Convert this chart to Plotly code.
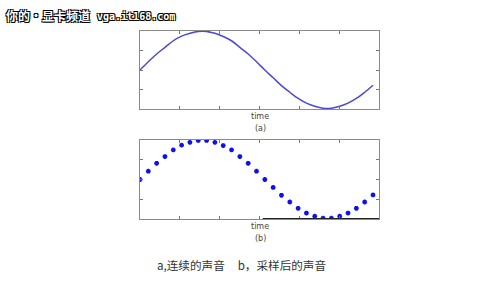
import plotly.graph_objects as go

sample_idx = list(range(29))
sample_vals = [0.0, 0.21, 0.41, 0.58, 0.75, 0.87, 0.94, 0.99, 0.99, 0.94, 0.86, 0.75,
               0.58, 0.41, 0.21, 0.0, -0.2, -0.4, -0.57, -0.73, -0.85, -0.93, -0.98,
               -0.98, -0.93, -0.85, -0.73, -0.57, -0.39]
x_ticks = [4.8, 9.6, 14.4, 19.2, 24.0]
y_ticks = [-0.5, 0, 0.5]
x_range = [0, 28.72]
y_range = [-1, 1]

fig = go.Figure()
fig.add_trace(go.Scatter(x=sample_idx, y=sample_vals, mode="lines",
                         line=dict(color="#4a4ad8", width=1.5, shape="spline"),
                         xaxis="x", yaxis="y", showlegend=False))
fig.add_trace(go.Scatter(x=sample_idx, y=sample_vals, mode="markers",
                         marker=dict(symbol="asterisk", size=4, color="#1010ee",
                                     line=dict(color="#1010ee", width=1.5)),
                         xaxis="x2", yaxis="y2", showlegend=False))

ax = dict(range=x_range, tickvals=x_ticks, ticktext=[""] * 5, ticks="inside", ticklen=3,
          tickcolor="#777", showline=True, linecolor="#8a8a8a", linewidth=1, mirror="ticks",
          showgrid=False, zeroline=False)
ay = dict(range=y_range, tickvals=y_ticks, ticktext=[""] * 3, ticks="inside", ticklen=3,
          tickcolor="#777", showline=True, linecolor="#8a8a8a", linewidth=1, mirror="ticks",
          showgrid=False, zeroline=False)

W, H = 500, 283
fig.update_layout(
    width=W, height=H, margin=dict(l=0, r=0, t=0, b=0),
    paper_bgcolor="white", plot_bgcolor="white",
    xaxis=dict(ax, domain=[140 / W, 379 / W], anchor="y"),
    yaxis=dict(ay, domain=[1 - 109 / H, 1 - 31 / H], anchor="x"),
    xaxis2=dict(ax, domain=[140 / W, 379 / W], anchor="y2"),
    yaxis2=dict(ay, domain=[1 - 219 / H, 1 - 140 / H], anchor="x2"),
    font=dict(family="DejaVu Sans", color="#444"),
)

fig.add_shape(type="line", xref="x2", yref="y2", x0=14.76, x1=28.72, y0=-1, y1=-1,
              line=dict(color="#222", width=2))

def ann(text, x, y, size, color="#444", family="DejaVu Sans", xanchor="center", **kw):
    fig.add_annotation(text=text, x=x / W, y=1 - y / H, xref="paper", yref="paper",
                       xanchor=xanchor, yanchor="middle", showarrow=False,
                       font=dict(size=size, color=color, family=family,
                                 **kw.pop("font", {})), **kw)

ann("time", 260, 116, 8)
ann("(a)", 260, 128, 8)
ann("time", 260, 226, 8)
ann("(b)", 260, 238, 8)
ann("a,连续的声音&nbsp;&nbsp;&nbsp;&nbsp;&nbsp;b，采样后的声音", 241, 265, 11.6, color="#333",
    family="Noto Sans CJK SC")
outline = "1px 1px 0 #000, -1px -1px 0 #000, 1px -1px 0 #000, -1px 1px 0 #000"
ann("<b>你的•显卡频道</b>", 4, 16, 12, color="white", family="Noto Sans CJK SC",
    xanchor="left", font=dict(shadow=outline))
ann("<b>vga.it168.com</b>", 95, 17, 10, color="white", family="DejaVu Sans Mono",
    xanchor="left", font=dict(shadow=outline))

fig.write_html("out.html")
